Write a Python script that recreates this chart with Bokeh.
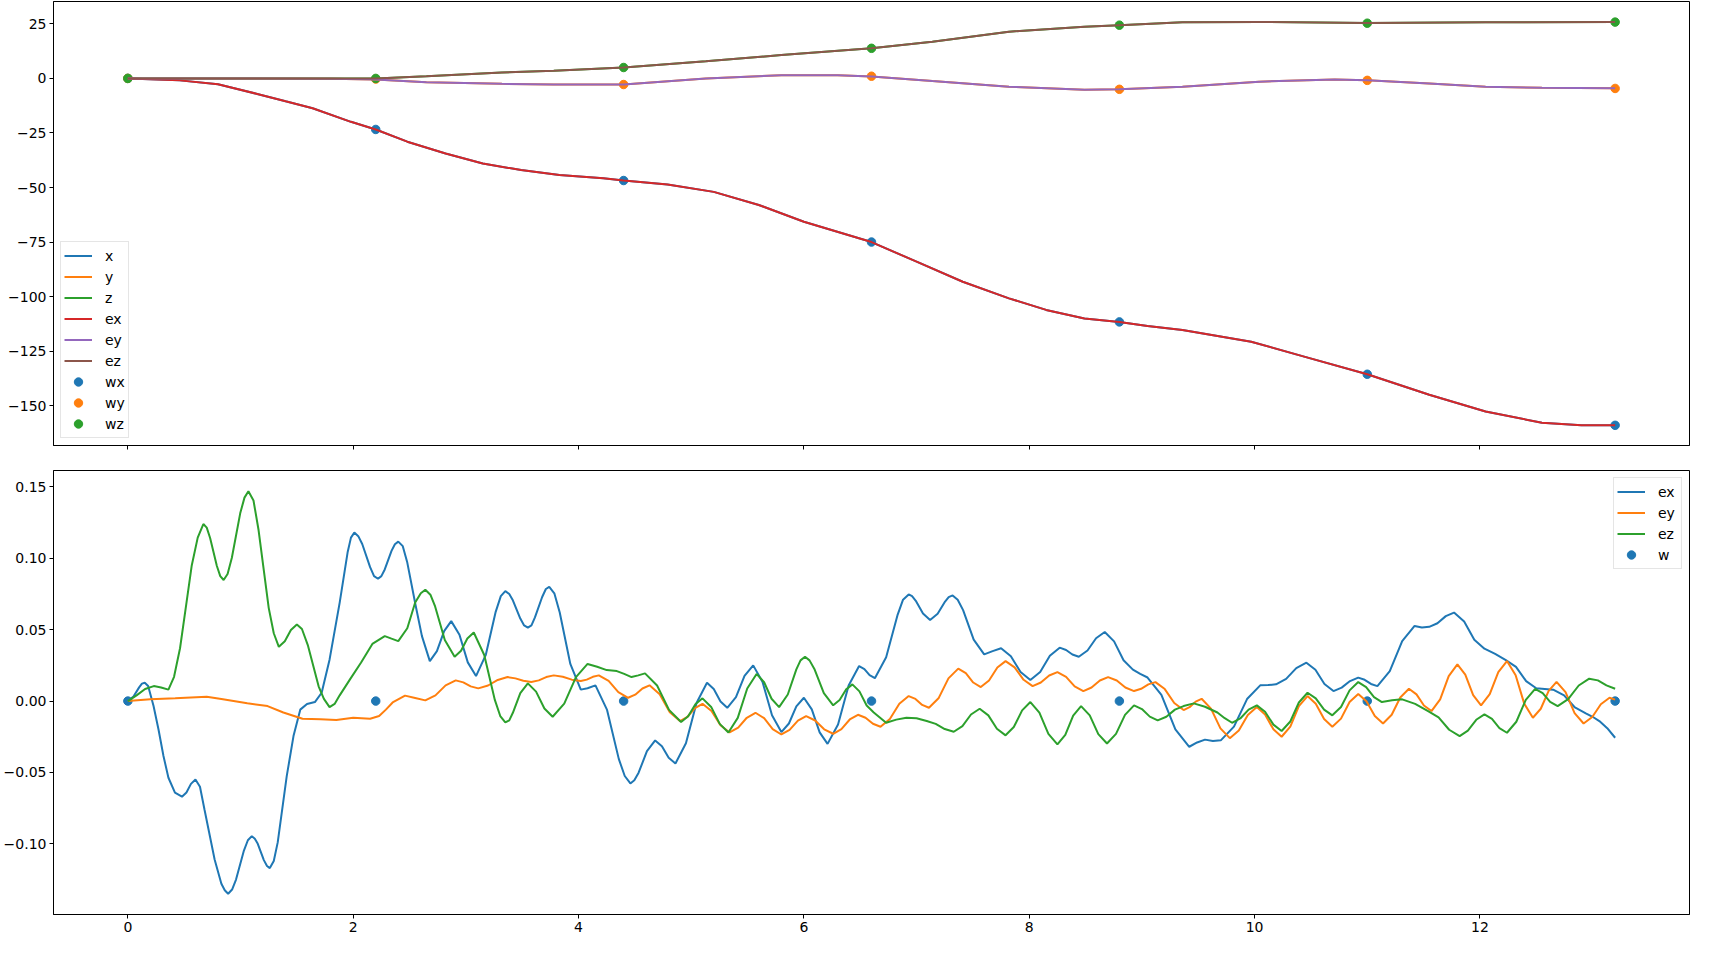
from bokeh.plotting import figure
from bokeh.models import (Range1d, FixedTicker, CustomJSTickFormatter, Legend,
                          LegendItem)
from bokeh.layouts import column
from bokeh.embed import file_html
from bokeh.resources import INLINE

FONT = "DejaVu Sans"
FS = "14px"

# ---------------- ticks ----------------
x_ticks = [0, 2, 4, 6, 8, 10, 12]
top_y_ticks = [-150, -125, -100, -75, -50, -25, 0, 25]
bot_y_ticks = [-0.15, -0.10, -0.05, 0.0, 0.05, 0.10, 0.15]

# ---------------- waypoints ----------------
wp_t = [0.0, 2.2, 4.4, 6.6, 8.8, 11.0, 13.2]
wp_x = [0.0, -23.4, -46.8, -75.0, -111.6, -135.6, -159.0]
wp_y = [0.0, -0.3, -2.8, 1.0, -5.0, -0.9, -4.6]
wp_z = [0.0, 0.0, 5.0, 13.8, 24.4, 25.3, 25.8]
w_err = [0.0, 0.0, 0.0, 0.0, 0.0, 0.0, 0.0]

# ---------------- upper trajectories ----------------
tx_t = [0.0, 0.46, 0.80, 1.14, 1.40, 1.64, 1.98, 2.20, 2.48, 2.82, 3.15, 3.49,
        3.83, 4.22, 4.40, 4.79, 5.20, 5.60, 6.00, 6.60, 7.00, 7.41, 7.82, 8.15,
        8.49, 8.80, 9.05, 9.36, 9.97, 10.44, 11.00, 11.55, 12.05, 12.55, 12.90, 13.20]
tx_v = [0.0, -0.9, -2.7, -7.0, -10.5, -13.7, -19.9, -23.4, -29.0, -34.4, -39.0, -42.0,
        -44.3, -45.8, -46.8, -48.6, -52.0, -58.0, -65.7, -75.0, -84.0, -93.2, -100.8, -106.1,
        -110.0, -111.6, -113.5, -115.3, -120.7, -127.5, -135.6, -145.0, -152.7, -157.8, -159.0, -159.0]

ty_t = [0.0, 1.0, 1.8, 2.2, 2.65, 3.32, 3.78, 4.22, 4.40, 5.13, 5.80, 6.30, 6.60,
        7.14, 7.82, 8.49, 8.80, 9.36, 10.04, 10.71, 11.00, 11.55, 12.05, 12.55, 13.20]
ty_v = [0.0, 0.0, -0.1, -0.5, -1.8, -2.5, -2.75, -2.8, -2.8, 0.0, 1.5, 1.5, 0.9,
        -1.2, -3.8, -5.2, -5.0, -3.8, -1.5, -0.5, -0.8, -2.3, -3.8, -4.3, -4.5]

tz_t = [0.0, 1.0, 1.8, 2.2, 2.65, 3.32, 3.78, 4.40, 5.13, 5.80, 6.60, 7.14, 7.82,
        8.49, 8.80, 9.36, 10.04, 11.00, 12.05, 13.20]
tz_v = [0.0, 0.0, 0.0, 0.0, 1.0, 2.7, 3.5, 5.0, 7.9, 10.7, 13.8, 16.8, 21.4,
        23.7, 24.4, 25.7, 25.9, 25.4, 25.7, 25.9]

# ---------------- lower errors ----------------
ex_t = [0.00, 0.05, 0.10, 0.125, 0.15, 0.18, 0.228, 0.272, 0.316, 0.36,
        0.418, 0.48, 0.52, 0.56, 0.60, 0.64, 0.68, 0.77, 0.83, 0.86,
        0.89, 0.925, 0.96, 1.03, 1.065, 1.10, 1.127, 1.153, 1.207, 1.235,
        1.26, 1.295, 1.33, 1.41, 1.47, 1.53, 1.59, 1.66, 1.72, 1.79,
        1.88, 1.95, 1.98, 2.01, 2.045, 2.08, 2.15, 2.185, 2.22, 2.25,
        2.28, 2.34, 2.37, 2.40, 2.44, 2.48, 2.555, 2.61, 2.68, 2.743,
        2.807, 2.87, 2.943, 3.017, 3.09, 3.177, 3.263, 3.31, 3.35, 3.385,
        3.417, 3.483, 3.517, 3.55, 3.582, 3.613, 3.677, 3.71, 3.74, 3.785,
        3.833, 3.927, 4.02, 4.08, 4.15, 4.253, 4.357, 4.41, 4.46, 4.495,
        4.533, 4.607, 4.68, 4.74, 4.80, 4.86, 4.953, 5.047, 5.14, 5.20,
        5.26, 5.32, 5.397, 5.473, 5.55, 5.633, 5.717, 5.80, 5.867, 5.933,
        6.00, 6.07, 6.14, 6.21, 6.303, 6.397, 6.49, 6.537, 6.583, 6.63,
        6.73, 6.83, 6.88, 6.93, 6.96, 6.993, 7.057, 7.12, 7.187, 7.253,
        7.285, 7.32, 7.365, 7.413, 7.507, 7.60, 7.675, 7.75, 7.837, 7.923,
        8.01, 8.097, 8.183, 8.27, 8.327, 8.383, 8.44, 8.517, 8.593, 8.67,
        8.753, 8.837, 8.92, 8.985, 9.05, 9.173, 9.297, 9.42, 9.49, 9.56,
        9.63, 9.70, 9.817, 9.933, 10.05, 10.12, 10.19, 10.28, 10.37, 10.46,
        10.54, 10.62, 10.70, 10.773, 10.847, 10.92, 10.977, 11.033, 11.09, 11.20,
        11.31, 11.42, 11.485, 11.55, 11.623, 11.697, 11.77, 11.86, 11.95, 12.04,
        12.135, 12.23, 12.32, 12.41, 12.50, 12.575, 12.65, 12.747, 12.843, 12.94,
        13.00, 13.06, 13.13, 13.20]
ex_v = [0.0, 0.0032, 0.0096, 0.0122, 0.0128, 0.0105, -0.0035, -0.0199, -0.0385, -0.0537,
        -0.0642, -0.067, -0.064, -0.058, -0.055, -0.060, -0.076, -0.111, -0.128, -0.1325,
        -0.135, -0.132, -0.125, -0.1047, -0.0975, -0.0946, -0.0965, -0.100, -0.1114, -0.1155,
        -0.117, -0.112, -0.099, -0.0526, -0.0245, -0.006, -0.002, -0.0007, 0.0058, 0.029,
        0.069, 0.104, 0.1145, 0.118, 0.1155, 0.110, 0.0938, 0.0875, 0.0857, 0.0875,
        0.0922, 0.1052, 0.1098, 0.1117, 0.1085, 0.097, 0.0666, 0.0455, 0.028, 0.035,
        0.049, 0.056, 0.0464, 0.0271, 0.0175, 0.0324, 0.0621, 0.0735, 0.077, 0.075,
        0.0706, 0.0578, 0.053, 0.0514, 0.053, 0.0586, 0.0729, 0.0785, 0.080, 0.0755,
        0.062, 0.026, 0.008, 0.009, 0.011, -0.0062, -0.0405, -0.0525, -0.0577, -0.0555,
        -0.0502, -0.0351, -0.0276, -0.0316, -0.0397, -0.0437, -0.0296, -0.0013, 0.0128, 0.0084,
        -0.0003, -0.0047, 0.0027, 0.0176, 0.025, 0.0133, -0.010, -0.0217, -0.0157, -0.0037,
        0.0023, -0.0058, -0.0219, -0.030, -0.0164, 0.0109, 0.0245, 0.0224, 0.0181, 0.016,
        0.0307, 0.060, 0.071, 0.0747, 0.0735, 0.0702, 0.0613, 0.0568, 0.0611, 0.0697,
        0.0728, 0.074, 0.071, 0.0637, 0.043, 0.0327, 0.035, 0.037, 0.0314, 0.0203,
        0.0147, 0.0204, 0.0317, 0.0374, 0.0358, 0.0326, 0.031, 0.0354, 0.044, 0.0484,
        0.0418, 0.0286, 0.022, 0.019, 0.0165, 0.0044, -0.0199, -0.032, -0.029, -0.027,
        -0.028, -0.0275, -0.0179, 0.0014, 0.011, 0.0112, 0.0117, 0.0155, 0.0231, 0.0269,
        0.0219, 0.012, 0.007, 0.0094, 0.014, 0.0164, 0.0149, 0.012, 0.0105, 0.021,
        0.042, 0.0526, 0.0515, 0.052, 0.0545, 0.0595, 0.062, 0.0557, 0.043, 0.0367,
        0.033, 0.0287, 0.024, 0.014, 0.009, 0.0085, 0.008, 0.004, -0.0045, -0.0086,
        -0.011, -0.014, -0.019, -0.0257]

ey_t = [0.00, 0.20, 0.42, 0.70, 0.83, 1.06, 1.24, 1.38, 1.55, 1.71,
        1.85, 2.00, 2.15, 2.23, 2.29, 2.35, 2.46, 2.55, 2.64, 2.73,
        2.82, 2.91, 2.977, 3.043, 3.11, 3.197, 3.283, 3.37, 3.44, 3.51,
        3.58, 3.647, 3.713, 3.78, 3.86, 3.94, 4.02, 4.073, 4.127, 4.18,
        4.267, 4.353, 4.44, 4.503, 4.567, 4.63, 4.72, 4.81, 4.90, 4.967,
        5.033, 5.10, 5.18, 5.26, 5.34, 5.417, 5.493, 5.57, 5.647, 5.723,
        5.80, 5.873, 5.947, 6.02, 6.10, 6.18, 6.26, 6.333, 6.407, 6.48,
        6.547, 6.613, 6.68, 6.763, 6.847, 6.93, 6.99, 7.05, 7.11, 7.197,
        7.283, 7.37, 7.437, 7.503, 7.57, 7.643, 7.717, 7.79, 7.87, 7.95,
        8.03, 8.103, 8.177, 8.25, 8.327, 8.403, 8.48, 8.553, 8.627, 8.70,
        8.777, 8.853, 8.93, 8.993, 9.057, 9.12, 9.203, 9.287, 9.37, 9.423,
        9.477, 9.53, 9.613, 9.697, 9.78, 9.86, 9.94, 10.02, 10.093, 10.167,
        10.24, 10.317, 10.393, 10.47, 10.543, 10.617, 10.69, 10.767, 10.843, 10.92,
        10.993, 11.067, 11.14, 11.217, 11.293, 11.37, 11.437, 11.503, 11.57, 11.647,
        11.723, 11.80, 11.87, 11.94, 12.01, 12.087, 12.163, 12.24, 12.317, 12.393,
        12.47, 12.54, 12.61, 12.68, 12.76, 12.84, 12.92, 12.997, 13.073, 13.15,
        13.20]
ey_v = [0.0, 0.0012, 0.0019, 0.003, 0.0015, -0.0016, -0.0035, -0.008, -0.0124, -0.0128,
        -0.0133, -0.0117, -0.0124, -0.0105, -0.006, -0.001, 0.0038, 0.0022, 0.0005, 0.004,
        0.011, 0.0145, 0.0131, 0.0103, 0.0089, 0.0109, 0.0148, 0.0168, 0.0159, 0.0142,
        0.0133, 0.0145, 0.0168, 0.018, 0.017, 0.015, 0.014, 0.015, 0.017, 0.018,
        0.0141, 0.0062, 0.0023, 0.0045, 0.0088, 0.011, 0.0048, -0.0078, -0.014, -0.011,
        -0.0049, -0.0019, -0.0069, -0.017, -0.022, -0.0186, -0.0117, -0.0082, -0.012, -0.0196,
        -0.0234, -0.0202, -0.0137, -0.0105, -0.0136, -0.0198, -0.0229, -0.0196, -0.0129, -0.0096,
        -0.0117, -0.0159, -0.018, -0.0126, -0.0019, 0.0035, 0.0015, -0.0027, -0.0047, 0.0022,
        0.0159, 0.0227, 0.0195, 0.013, 0.0098, 0.0144, 0.0235, 0.028, 0.0236, 0.0149,
        0.0105, 0.013, 0.0179, 0.0203, 0.017, 0.0103, 0.007, 0.0095, 0.0144, 0.0168,
        0.0144, 0.0095, 0.007, 0.0086, 0.0117, 0.0133, 0.0084, -0.0014, -0.0063, -0.0043,
        -0.0004, 0.0016, -0.0053, -0.0191, -0.026, -0.0206, -0.0097, -0.0042, -0.0094, -0.0198,
        -0.025, -0.0179, -0.0036, 0.0035, -0.0019, -0.0126, -0.018, -0.0123, -0.0007, 0.005,
        -0.0002, -0.0105, -0.0157, -0.0096, 0.0025, 0.0086, 0.0047, -0.0031, -0.007, 0.0012,
        0.0175, 0.0257, 0.0185, 0.0042, -0.003, 0.0048, 0.0203, 0.028, 0.0181, -0.0018,
        -0.0117, -0.0054, 0.0072, 0.0135, 0.0062, -0.0084, -0.0157, -0.0112, -0.0022, 0.0023,
        0.001]

ez_t = [0.00, 0.077, 0.153, 0.23, 0.295, 0.36, 0.41, 0.463, 0.515, 0.567,
        0.62, 0.67, 0.70, 0.73, 0.79, 0.82, 0.85, 0.885, 0.923, 0.997,
        1.035, 1.07, 1.115, 1.16, 1.25, 1.295, 1.34, 1.393, 1.447, 1.50,
        1.545, 1.597, 1.693, 1.74, 1.79, 1.835, 1.88, 1.97, 2.07, 2.17,
        2.28, 2.34, 2.40, 2.48, 2.55, 2.60, 2.64, 2.685, 2.727, 2.813,
        2.90, 2.957, 3.013, 3.07, 3.163, 3.257, 3.305, 3.35, 3.385, 3.417,
        3.483, 3.55,
        3.623, 3.697, 3.77, 3.873, 3.977, 4.08, 4.165, 4.25, 4.34, 4.405,
        4.47, 4.53, 4.59, 4.697, 4.803, 4.91, 4.973, 5.037, 5.10, 5.177,
        5.253, 5.33, 5.413, 5.497, 5.58, 5.647, 5.713, 5.78, 5.857, 5.933,
        5.97, 6.01, 6.05, 6.093, 6.177, 6.26,
        6.317, 6.373, 6.43, 6.493, 6.557, 6.62, 6.73, 6.82, 6.91, 7.00,
        7.09, 7.17, 7.25, 7.33, 7.407, 7.483, 7.56, 7.637, 7.713, 7.79,
        7.863, 7.937, 8.01, 8.09, 8.17, 8.25, 8.32, 8.39, 8.46, 8.537,
        8.613, 8.69, 8.77, 8.85, 8.93, 9.00, 9.07, 9.14, 9.217, 9.293,
        9.37, 9.46, 9.56, 9.67, 9.735, 9.80, 9.873, 9.947, 10.02, 10.093,
        10.167, 10.24, 10.317, 10.393, 10.47, 10.543, 10.617, 10.69, 10.767, 10.843,
        10.92, 10.99, 11.06, 11.13, 11.22, 11.31, 11.425, 11.54, 11.633, 11.727,
        11.82, 11.893, 11.967, 12.04, 12.107, 12.173, 12.24, 12.323, 12.407, 12.49,
        12.557, 12.623, 12.69, 12.783, 12.877, 12.97, 13.047, 13.123, 13.20]
ez_v = [0.0, 0.004, 0.0085, 0.0105, 0.0095, 0.008, 0.017, 0.037, 0.066, 0.095,
        0.1145, 0.124, 0.1215, 0.1142, 0.0946, 0.0875, 0.0848, 0.089, 0.1004, 0.1315,
        0.1425, 0.147, 0.1405, 0.1198, 0.0653, 0.0475, 0.038, 0.0419, 0.0498, 0.0537,
        0.0505, 0.0392, 0.0103, 0.0015, -0.0042, -0.002, 0.004, 0.015, 0.027, 0.040,
        0.0455, 0.0437, 0.042, 0.051, 0.069, 0.0755, 0.078, 0.0745, 0.0663, 0.0428,
        0.031, 0.0353, 0.0438, 0.048, 0.0323, 0.0008, -0.0105, -0.015, -0.0135, -0.0082,
        0.0056, 0.0124,
        0.0066, -0.0052, -0.011, -0.0018, 0.0168, 0.026, 0.024, 0.0217, 0.021, 0.019,
        0.0168, 0.018, 0.0194, 0.0109, -0.0062, -0.0147, -0.0106, -0.0022, 0.0019, -0.0041,
        -0.016, -0.022, -0.0118, 0.0088, 0.019, 0.0132, 0.0016, -0.0042, 0.0046, 0.0222,
        0.0285, 0.031, 0.0285, 0.0225, 0.0055, -0.003,
        0.0007, 0.008, 0.0117, 0.0068, -0.0031, -0.008, -0.0152, -0.013, -0.0117, -0.012,
        -0.014, -0.016, -0.0196, -0.0215, -0.0175, -0.0094, -0.0054, -0.010, -0.0194, -0.024,
        -0.0182, -0.0065, -0.0007, -0.0081, -0.023, -0.0304, -0.0237, -0.0102, -0.0035, -0.010,
        -0.0232, -0.0297, -0.023, -0.0097, -0.003, -0.0056, -0.0109, -0.0135, -0.011, -0.006,
        -0.0035, -0.0016, -0.004, -0.008, -0.012, -0.0152, -0.0122, -0.006, -0.003, -0.0075,
        -0.0165, -0.021, -0.0143, -0.001, 0.0058, 0.0019, -0.006, -0.010, -0.0042, 0.0075,
        0.0133, 0.0098, 0.0028, -0.0007, 0.0005, 0.0012, -0.002, -0.007, -0.0114, -0.0201,
        -0.0245, -0.0207, -0.0131, -0.0093, -0.0125, -0.019, -0.0222, -0.0145, 0.0009, 0.0086,
        0.0056, -0.0005, -0.0035, 0.0013, 0.0109, 0.0157, 0.0145, 0.011, 0.0086]

# ---------------- colours ----------------
C_BLUE, C_ORANGE, C_GREEN = "#1f77b4", "#ff7f0e", "#2ca02c"
C_RED, C_PURPLE, C_BROWN = "#d62728", "#9467bd", "#8c564b"

LW = 2
MS = 8.5

x_range = Range1d(-0.66, 13.86)


def style(p):
    p.background_fill_color = "white"
    p.border_fill_color = "white"
    p.outline_line_color = "black"
    p.outline_line_width = 1
    p.xgrid.visible = False
    p.ygrid.visible = False
    for ax in (p.xaxis[0], p.yaxis[0]):
        ax.axis_line_color = "black"
        ax.axis_line_width = 1
        ax.major_tick_line_color = "black"
        ax.major_tick_line_width = 1
        ax.major_tick_out = 4
        ax.major_tick_in = 0
        ax.minor_tick_line_color = None
        ax.major_label_text_font = FONT
        ax.major_label_text_font_size = FS
        ax.major_label_text_color = "black"
        ax.major_label_standoff = 3


def style_legend(leg):
    leg.label_text_font = FONT
    leg.label_text_font_size = FS
    leg.label_text_color = "black"
    leg.glyph_width = 28
    leg.glyph_height = 21
    leg.label_height = 21
    leg.label_standoff = 13
    leg.padding = 3
    leg.margin = 7
    leg.spacing = 0
    leg.border_line_color = "#cccccc"
    leg.border_line_width = 1
    leg.background_fill_color = "white"
    leg.background_fill_alpha = 0.8


# ---------------- upper figure ----------------
p1 = figure(width=1693, height=459, x_range=x_range,
            y_range=Range1d(-168.25, 35.25),
            output_backend="svg", toolbar_location=None,
            min_border_left=50, min_border_right=4,
            min_border_top=1, min_border_bottom=14)
style(p1)
p1.xaxis.ticker = FixedTicker(ticks=x_ticks, minor_ticks=[])
p1.xaxis.formatter = CustomJSTickFormatter(code="return '';")
p1.yaxis.ticker = FixedTicker(ticks=top_y_ticks, minor_ticks=[])
p1.yaxis.formatter = CustomJSTickFormatter(
    code="return tick < 0 ? '\u2212' + Math.abs(tick).toFixed(0) : tick.toFixed(0);")

s_wx = p1.scatter(wp_t, wp_x, size=MS, color=C_BLUE, line_width=1)
s_wy = p1.scatter(wp_t, wp_y, size=MS, color=C_ORANGE, line_width=1)
s_wz = p1.scatter(wp_t, wp_z, size=MS, color=C_GREEN, line_width=1)
r_x = p1.line(tx_t, tx_v, color=C_BLUE, line_width=LW)
r_y = p1.line(ty_t, ty_v, color=C_ORANGE, line_width=LW)
r_z = p1.line(tz_t, tz_v, color=C_GREEN, line_width=LW)
r_ex = p1.line(tx_t, tx_v, color=C_RED, line_width=LW)
r_ey = p1.line(ty_t, ty_v, color=C_PURPLE, line_width=LW)
r_ez = p1.line(tz_t, tz_v, color=C_BROWN, line_width=LW)

leg1 = Legend(items=[
    LegendItem(label="x", renderers=[r_x]),
    LegendItem(label="y", renderers=[r_y]),
    LegendItem(label="z", renderers=[r_z]),
    LegendItem(label="ex", renderers=[r_ex]),
    LegendItem(label="ey", renderers=[r_ey]),
    LegendItem(label="ez", renderers=[r_ez]),
    LegendItem(label="wx", renderers=[s_wx]),
    LegendItem(label="wy", renderers=[s_wy]),
    LegendItem(label="wz", renderers=[s_wz]),
], location="bottom_left")
style_legend(leg1)
p1.add_layout(leg1)

# ---------------- lower figure ----------------
p2 = figure(width=1693, height=483, x_range=x_range,
            y_range=Range1d(-0.1495, 0.1615),
            output_backend="svg", toolbar_location=None,
            min_border_left=50, min_border_right=4,
            min_border_top=11, min_border_bottom=28)
style(p2)
p2.xaxis.ticker = FixedTicker(ticks=x_ticks, minor_ticks=[])
p2.yaxis.ticker = FixedTicker(ticks=bot_y_ticks, minor_ticks=[])
p2.yaxis.formatter = CustomJSTickFormatter(
    code="var a = Math.abs(tick); if (a < 1e-9) { return '0.00'; } "
         "return (tick < 0 ? '\u2212' : '') + a.toFixed(2);")

s_w = p2.scatter(wp_t, w_err, size=MS, color=C_BLUE, line_width=1)
l_ex = p2.line(ex_t, ex_v, color=C_BLUE, line_width=LW)
l_ey = p2.line(ey_t, ey_v, color=C_ORANGE, line_width=LW)
l_ez = p2.line(ez_t, ez_v, color=C_GREEN, line_width=LW)

leg2 = Legend(items=[
    LegendItem(label="ex", renderers=[l_ex]),
    LegendItem(label="ey", renderers=[l_ey]),
    LegendItem(label="ez", renderers=[l_ez]),
    LegendItem(label="w", renderers=[s_w]),
], location="top_right")
style_legend(leg2)
p2.add_layout(leg2)

layout = column(p1, p2, spacing=0)

open("out.html", "w").write(file_html(layout, INLINE))
